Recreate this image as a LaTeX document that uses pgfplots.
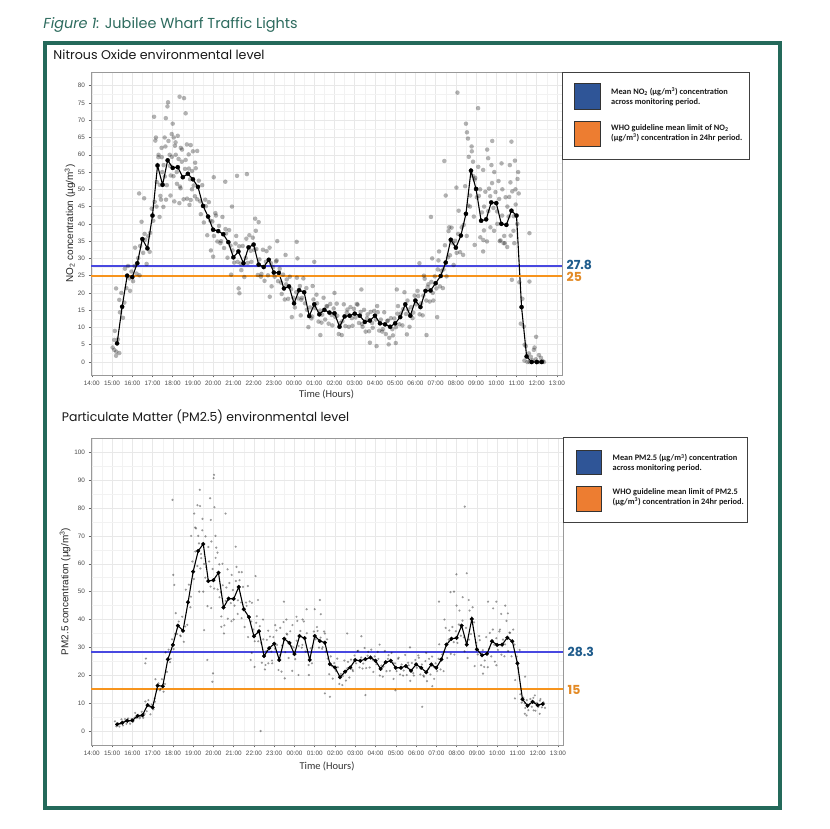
\documentclass[border=0pt]{standalone}
\usepackage{fontspec}
\setmainfont{Liberation Sans}
\newfontfamily\popfont{Poppins}
\newfontfamily\carfont{Carlito}
\usepackage{pgfplots}
\pgfplotsset{compat=1.18}
\usepackage{pgfplotstable}

\definecolor{framegreen}{HTML}{24695A}
\definecolor{titlegreen}{HTML}{2D6B5E}
\definecolor{meanblue}{HTML}{4848E0}
\definecolor{limitorange}{HTML}{F7941D}
\definecolor{annblue}{HTML}{1F5C8C}
\definecolor{annorange}{HTML}{E38A25}
\definecolor{legblue}{HTML}{2F5597}
\definecolor{legorange}{HTML}{ED7D31}

% NO2, 15 minute means (x = hours after 14:00)
\pgfplotstableread{
x y
1.25 5.4
1.5 16
1.75 25
2 24.6
2.25 28.6
2.5 35.6
2.75 32.9
3 42.4
3.25 56.9
3.5 51.3
3.75 58.4
4 56.2
4.25 56.4
4.5 53.5
4.75 54.5
5 52.9
5.25 50.7
5.5 45.2
5.75 42.1
6 38.3
6.25 37.9
6.5 37
6.75 34.7
7 30.3
7.25 32
7.5 28.6
7.75 33.2
8 34
8.25 28.2
8.5 27.5
8.75 29.6
9 25.9
9.25 25.8
9.5 21.3
9.75 21.9
10 17
10.25 20.8
10.5 20.2
10.75 13.3
11 16.7
11.25 13.8
11.5 15.1
11.75 14.3
12 14.1
12.25 10.2
12.5 13.2
12.75 13.4
13 14
13.25 13.4
13.5 11.6
13.75 12
14 13.4
14.25 11.2
14.5 10.9
14.75 10.2
15 11.2
15.25 13
15.5 16.7
15.75 13.4
16 17.8
16.25 15.9
16.5 20.6
16.75 20.7
17 22.8
17.25 24.9
17.5 28.8
17.75 35.4
18 33.1
18.25 36.6
18.5 42.9
18.75 55.4
19 50.1
19.25 40.9
19.5 41.3
19.75 46.2
20 46
20.25 40
20.5 39.7
20.75 43.8
21 42.4
21.25 15.9
21.5 1.6
21.75 0
22 0
22.25 0
}\noline

% NO2, single readings
\pgfplotstableread{
xa ya xb yb xc yc xd yd
1.14 9.0 1.21 3.0 1.29 6.6 1.36 2.6
1.39 14.4 1.46 20 1.54 12.8 1.61 17.2
1.64 27 1.71 21.4 1.79 27.8 1.86 24.2
1.89 20.6 1.96 26.2 2.04 23.4 2.11 27.8
2.14 33.1 2.21 25.6 2.29 30.1 2.36 25.1
2.39 33.6 2.46 40.6 2.54 31.6 2.61 37.1
2.64 35.4 2.71 28.4 2.79 36.4 2.86 31.9
2.89 37.4 2.96 44.4 3.04 40.9 3.11 46.4
3.14 64.1 3.21 52.1 3.29 59.3 3.36 51.3
3.39 48.1 3.46 59.3 3.54 44.9 3.61 53.7
3.64 62.4 3.71 51.2 3.79 64.0 3.86 56.8
3.89 48.2 3.96 59.4 4.04 53.8 4.11 62.6
4.14 63.6 4.21 51.6 4.29 58.8 4.36 50.8
4.39 50.3 4.46 61.5 4.54 47.1 4.61 55.9
4.64 58.5 4.71 47.3 4.79 60.1 4.86 52.9
4.89 46.9 4.96 55.3 5.04 51.1 5.11 57.7
5.14 56.1 5.21 47.1 5.29 52.5 5.36 46.5
5.39 42.8 5.46 51.2 5.54 40.4 5.61 47.0
5.64 45.1 5.71 36.7 5.79 46.3 5.86 40.9
5.89 32.3 5.96 40.7 6.04 36.5 6.11 43.1
6.14 42.4 6.21 34.9 6.29 39.4 6.36 34.4
6.39 35 6.46 42 6.54 33 6.61 38.5
6.64 37.2 6.71 30.2 6.79 38.2 6.86 33.7
6.89 25.3 6.96 32.3 7.04 28.8 7.11 34.3
7.14 36.5 7.21 29 7.29 33.5 7.36 28.5
7.39 26.6 7.46 33.6 7.54 24.6 7.61 30.1
7.64 35.7 7.71 28.7 7.79 36.7 7.86 32.2
7.89 29 7.96 36 8.04 32.5 8.11 38
8.14 32.7 8.21 25.2 8.29 29.7 8.36 24.7
8.39 25.5 8.46 32.5 8.54 23.5 8.61 29
8.64 32.1 8.71 25.1 8.79 33.1 8.86 28.6
8.89 21.9 8.96 27.5 9.04 24.7 9.11 29.1
9.14 29.4 9.21 23.4 9.29 27 9.36 23
9.39 19.7 9.46 25.3 9.54 18.1 9.61 22.5
9.64 23.9 9.71 18.3 9.79 24.7 9.86 21.1
9.89 13 9.96 18.6 10.04 15.8 10.11 20.2
10.14 24.4 10.21 18.4 10.29 22 10.36 18
10.39 18.6 10.46 24.2 10.54 17 10.61 21.4
10.64 15.1 10.71 10.1 10.79 15.8 10.86 12.6
10.89 13.2 10.96 18.1 11.04 15.6 11.11 19.5
11.14 17 11.21 11.7 11.29 14.9 11.36 11.4
11.39 13.7 11.46 18.6 11.54 12.3 11.61 16.2
11.64 16.1 11.71 11.1 11.79 16.8 11.86 13.6
11.89 10.6 11.96 15.5 12.04 13 12.11 16.9
12.14 13.4 12.21 8.1 12.29 11.3 12.36 7.8
12.39 11.8 12.46 16.7 12.54 10.4 12.61 14.3
12.64 15.2 12.71 10.2 12.79 15.9 12.86 12.7
12.89 10.5 12.96 15.4 13.04 12.9 13.11 16.8
13.14 16.6 13.21 11.3 13.29 14.5 13.36 11
13.39 10.2 13.46 15.1 13.54 8.8 13.61 12.7
13.64 13.8 13.71 8.9 13.79 14.5 13.86 11.3
13.89 9.9 13.96 14.8 14.04 12.3 14.11 16.2
14.14 14.4 14.21 9.1 14.29 12.3 14.36 8.8
14.39 9.5 14.46 14.4 14.54 8.1 14.61 11.9
14.64 12 14.71 7 14.79 12.7 14.86 9.5
14.89 7.7 14.96 12.6 15.04 10.1 15.11 14
15.14 16.2 15.21 10.9 15.29 14.1 15.36 10.6
15.39 15.3 15.46 20.2 15.54 13.9 15.61 17.8
15.64 15.2 15.71 10.2 15.79 15.9 15.86 12.7
15.89 14.3 15.96 19.2 16.04 16.7 16.11 20.6
16.14 19.1 16.21 13.8 16.29 17 16.36 13.5
16.39 19.2 16.46 24.1 16.54 17.8 16.61 21.7
16.64 22.5 16.71 17.5 16.79 23.2 16.86 20
16.89 17.8 16.96 24.8 17.04 21.3 17.11 26.8
17.14 29.4 17.21 21.9 17.29 26.4 17.36 21.4
17.39 26.8 17.46 33.8 17.54 24.8 17.61 30.3
17.64 37.9 17.71 30.9 17.79 38.9 17.86 34.4
17.89 28.1 17.96 35.1 18.04 31.6 18.11 37.1
18.14 43.8 18.21 31.8 18.29 39 18.36 31
18.39 39.7 18.46 50.9 18.54 36.5 18.61 45.3
18.64 59.4 18.71 48.2 18.79 61 18.86 53.8
18.89 42.1 18.96 53.3 19.04 47.7 19.11 56.5
19.14 48.1 19.21 36.1 19.29 43.3 19.36 35.3
19.39 38.1 19.46 49.3 19.54 34.9 19.61 43.7
19.64 50.2 19.71 39 19.79 51.8 19.86 44.6
19.89 38 19.96 49.2 20.04 43.6 20.11 52.4
20.14 47.2 20.21 35.2 20.29 42.4 20.36 34.4
20.39 36.5 20.46 47.7 20.54 33.3 20.61 42.1
20.64 47.8 20.71 36.6 20.79 49.4 20.86 42.2
20.89 34.4 20.96 45.6 21.04 40 21.11 48.8
21.14 23.1 21.21 11.1 21.29 18.3 21.36 10.3
21.39 0.4 21.46 4.6 21.54 0 21.61 2.5
21.64 0 21.71 1.5 21.79 0.5 21.86 3.5
21.89 4.2 21.96 0.8 22.04 0 22.11 2
22.14 0 22.21 1.2 22.29 0.3 22.36 0
}\noscat

\pgfplotstableread{
x y
1.03 4.2
1.11 3.5
1.2 1.8
1.11 6.4
1.2 21.3
1.36 18
2.34 48.8
2.59 47.4
3.08 71
3.17 65
3.66 70.6
3.74 74
3.77 75.2
4.0 69
4.05 65
4.25 65.5
4.34 76.8
4.56 76.4
4.64 72
4.89 62.8
3.42 47
3.67 47
4.08 46.5
4.33 46
4.83 45.5
5.0 61
5.21 61.1
6.03 53.5
6.6 52.2
6.0 30.5
6.93 45
7.18 53.9
7.67 54.4
7.26 21.3
7.3 19.9
8.08 41.5
8.25 40.5
8.8 18.9
9.17 35
9.58 31
10.13 34.8
10.17 30
10.33 13.5
11.0 29
10.92 22
11.3 7.8
12 20
13.33 21
13.75 5.6
14.08 4.6
14.68 5.1
15.03 5.5
15.08 21
15.58 8
16.42 25
16.55 7.8
16.2 28.6
16.77 42
16.83 30
17.08 13
17.17 32
17.43 58.2
17.5 48.2
17.67 39
18.03 50.5
18.08 78
18.5 69
18.55 66.5
18.6 64.7
18.78 62.4
18.93 52.8
19.1 73.5
19.35 55.6
19.55 61.5
19.6 59
19.76 57
19.8 64
20.26 57.5
20.67 57
20.75 63.8
20.92 58.3
18.93 33.9
19.35 32
20.17 35
20.42 34.4
20.77 23.8
21.4 5
21.64 37.3
21.64 23.3
21.97 7.3
3.3 60
3.45 62
3.55 57
3.6 65
3.85 60
3.95 66
4.15 60
4.2 55
4.4 62
4.45 58
4.7 63
4.8 56
4.95 50
5.1 48
3.2 45
3.35 42
3.48 55
3.9 54
19.2 50
19.4 45
19.7 48
19.9 55
20.05 40
20.3 50
20.55 45
20.7 52
20.85 38
20.95 50
21.05 53
21.08 55
18.7 45
18.85 58
}\noextra

% PM2.5, 15 minute means
\pgfplotstableread{
x y
1.25 2.4
1.5 3.0
1.75 3.7
2 3.8
2.25 5.4
2.5 5.7
2.75 9.3
3 8.5
3.25 16.3
3.5 16.1
3.75 25.7
4 30.9
4.25 37.8
4.5 36
4.75 46.2
5 57.2
5.25 64.6
5.5 67.1
5.75 53.8
6 54.1
6.25 56.8
6.5 44.3
6.75 47.5
7 47.4
7.25 51.7
7.5 43.7
7.75 40.9
8 34
8.25 35.8
8.5 26.9
8.75 29.7
9 31.3
9.25 25.5
9.5 33.1
9.75 31.6
10 27.6
10.25 34.1
10.5 33.3
10.75 25.5
11 34.1
11.25 32.3
11.5 31.7
11.75 24
12 22.8
12.25 19.3
12.5 21.3
12.75 22.8
13 25.5
13.25 25.2
13.5 25.8
13.75 26.4
14 25.2
14.25 22.3
14.5 24.7
14.75 25.2
15 22.7
15.25 22.7
15.5 23.3
15.75 21.6
16 23.9
16.25 22.7
16.5 21.1
16.75 23.9
17 22.7
17.25 25.7
17.5 31
17.75 33.1
18 33.4
18.25 37.8
18.5 31
18.75 40.2
19 29.3
19.25 27.2
19.5 27.7
19.75 32.2
20 30.9
20.25 31
20.5 33.5
20.75 32.2
21 24.3
21.25 11.4
21.5 9.1
21.75 10.5
22 9.3
22.25 9.7
}\pmline

\pgfplotstableread{
xa ya xb yb xc yc xd yd
1.14 3.5 1.21 1.7 1.29 2.8 1.36 1.6
1.39 2.5 1.46 4.2 1.54 2.0 1.61 3.4
1.64 4.3 1.71 2.6 1.79 4.5 1.86 3.5
1.89 2.6 1.96 4.3 2.04 3.4 2.11 4.8
2.14 6.5 2.21 4.7 2.29 5.8 2.36 4.6
2.39 5.2 2.46 6.9 2.54 4.7 2.61 6.1
2.64 10.6 2.71 7.1 2.79 11.1 2.86 8.8
2.89 6 2.96 9.5 3.04 7.8 3.11 10.5
3.14 18.6 3.21 14.8 3.29 17.1 3.36 14.6
3.39 15.1 3.46 18.6 3.54 14.1 3.61 16.9
3.64 28.2 3.71 21.2 3.79 29.2 3.86 24.7
3.89 25.9 3.96 32.9 4.04 29.4 4.11 34.9
4.14 42.3 4.21 34.8 4.29 39.3 4.36 34.3
4.39 34 4.46 41 4.54 32 4.61 37.5
4.64 50.7 4.71 38.1 4.79 52.5 4.86 44.4
4.89 48.2 4.96 60.8 5.04 54.5 5.11 64.4
5.14 72.7 5.21 59.2 5.29 67.3 5.36 58.3
5.39 63.5 5.46 76.1 5.54 59.9 5.61 69.8
5.64 58.8 5.71 44.8 5.79 60.8 5.86 51.8
5.89 44.1 5.96 58.1 6.04 51.1 6.11 62.1
6.14 65.8 6.21 50.8 6.29 59.8 6.36 49.8
6.39 41.1 6.46 52.3 6.54 37.9 6.61 46.7
6.64 51.5 6.71 40.3 6.79 53.1 6.86 45.9
6.89 39.4 6.96 50.6 7.04 45 7.11 53.8
7.14 58.9 7.21 46.9 7.29 54.1 7.36 46.1
7.39 40.5 7.46 51.7 7.54 37.3 7.61 46.1
7.64 44.9 7.71 33.7 7.79 46.5 7.86 39.3
7.89 28 7.96 36.4 8.04 32.2 8.11 38.8
8.14 41.2 8.21 32.2 8.29 37.6 8.36 31.6
8.39 24.5 8.46 32.9 8.54 22.1 8.61 28.7
8.64 32.7 8.71 24.3 8.79 33.9 8.86 28.5
8.89 25.3 8.96 33.7 9.04 29.5 9.11 36.1
9.14 30.9 9.21 21.9 9.29 27.3 9.36 21.3
9.39 30.7 9.46 39.1 9.54 28.3 9.61 34.9
9.64 34.6 9.71 26.2 9.79 35.8 9.86 30.4
9.89 21.6 9.96 30 10.04 25.8 10.11 32.4
10.14 39.5 10.21 30.5 10.29 35.9 10.36 29.9
10.39 30.9 10.46 39.3 10.54 28.5 10.61 35.1
10.64 28.5 10.71 20.1 10.79 29.7 10.86 24.3
10.89 30.1 10.96 35.7 11.04 32.9 11.11 37.3
11.14 35.9 11.21 29.9 11.29 33.5 11.36 29.5
11.39 30.1 11.46 35.7 11.54 28.5 11.61 32.9
11.64 26 11.71 20.4 11.79 26.8 11.86 23.2
11.89 18.8 11.96 24.4 12.04 21.6 12.11 26
12.14 22.9 12.21 16.9 12.29 20.5 12.36 16.5
12.39 19.7 12.46 25.3 12.54 18.1 12.61 22.5
12.64 24.8 12.71 19.2 12.79 25.6 12.86 22
12.89 21.5 12.96 27.1 13.04 24.3 13.11 28.7
13.14 28.8 13.21 22.8 13.29 26.4 13.36 22.4
13.39 24.2 13.46 29.8 13.54 22.6 13.61 27
13.64 28.4 13.71 22.8 13.79 29.2 13.86 25.6
13.89 21.2 13.96 26.8 14.04 24 14.11 28.4
14.14 25.9 14.21 19.9 14.29 23.5 14.36 19.5
14.39 23.1 14.46 28.7 14.54 21.5 14.61 25.9
14.64 27.2 14.71 21.6 14.79 28 14.86 24.4
14.89 18.7 14.96 24.3 15.04 21.5 15.11 25.9
15.14 26.3 15.21 20.3 15.29 23.9 15.36 19.9
15.39 21.7 15.46 27.3 15.54 20.1 15.61 24.5
15.64 23.6 15.71 18 15.79 24.4 15.86 20.8
15.89 19.9 15.96 25.5 16.04 22.7 16.11 27.1
16.14 26.3 16.21 20.3 16.29 23.9 16.36 19.9
16.39 19.5 16.46 25.1 16.54 17.9 16.61 22.3
16.64 25.9 16.71 20.3 16.79 26.7 16.86 23.1
16.89 18.7 16.96 24.3 17.04 21.5 17.11 25.9
17.14 31.1 17.21 22.1 17.29 27.5 17.36 21.5
17.39 28.6 17.46 37 17.54 26.2 17.61 32.8
17.64 36.1 17.71 27.7 17.79 37.3 17.86 31.9
17.89 27.4 17.96 35.8 18.04 31.6 18.11 38.2
18.14 43.2 18.21 34.2 18.29 39.6 18.36 33.6
18.39 28.6 18.46 37 18.54 26.2 18.61 32.8
18.64 43.2 18.71 34.8 18.79 44.4 18.86 39
18.89 23.3 18.96 31.7 19.04 27.5 19.11 34.1
19.14 32.6 19.21 23.6 19.29 29 19.36 23
19.39 25.3 19.46 33.7 19.54 22.9 19.61 29.5
19.64 35.2 19.71 26.8 19.79 36.4 19.86 31
19.89 24.9 19.96 33.3 20.04 29.1 20.11 35.7
20.14 36.4 20.21 27.4 20.29 32.8 20.36 26.8
20.39 31.1 20.46 39.5 20.54 28.7 20.61 35.3
20.64 35.2 20.71 26.8 20.79 36.4 20.86 31
20.89 18.3 20.96 26.7 21.04 22.5 21.11 29.1
21.14 13.2 21.21 10.2 21.29 12 21.36 10
21.39 8.3 21.46 11.1 21.54 7.5 21.61 9.7
21.64 11.5 21.71 8.7 21.79 11.9 21.86 10.1
21.89 7.3 21.96 10.1 22.04 8.7 22.11 10.9
22.14 11.5 22.21 8.5 22.29 10.3 22.36 8.3
}\pmscat

\pgfplotstableread{
x y
3.98 82.9
4.02 56
4.07 52.4
2.67 26
5.33 86.5
5.21 81
5.34 80.7
5.05 78
5.84 83.5
6.03 91.9
6.01 90.7
6.05 80.3
6.6 78
5.87 75.7
7.1 66.1
7.26 57
8.08 55.6
8.33 0
5.98 20.7
5.95 17.7
5.7 25.5
5.54 36.2
6.39 37.4
6.52 35
7.84 25.5
8.03 23
9.48 46.4
8.57 23.7
8.9 24.3
9.52 18.9
10.2 20.1
10.7 23.7
10.6 43.7
3.11 11.7
2.64 24.3
11.25 47
11.3 41.9
11.0 43.7
11.5 35
11.5 13.5
11.75 12.3
13.5 12.9
14.98 14.6
16.3 8.7
16.8 16.1
17.87 50
17.7 49.8
17.99 56.2
18.5 56.6
18.4 80.5
17.13 46.4
19.55 46.4
19.96 46.4
20.53 42.2
19.3 20.6
19.96 23.6
20.88 11.7
21.38 19.5
21.45 5.6
21.37 6.2
21.86 12.8
22.1 6.2
21.8 7.4
4.9 70
5.1 73
5.25 70
5.4 62
5.45 72
5.6 55
5.75 66
5.9 68
6.1 70
6.2 64
6.3 48
5.5 50
5.3 50
6.45 60
6.7 58
6.9 56
7.0 40
7.2 42
7.4 57
7.7 52
7.9 46
8.2 47
8.45 40
8.7 36
9.05 38
9.3 37
9.6 40
9.9 38
10.1 41
10.4 40
12.6 35
13.3 34
14.2 31
15.7 30
16.5 28
17.4 40
18.0 45
18.3 48
18.6 47
19.8 44
20.2 42
20.4 45
}\pmextra

% the two reference levels of each panel
\pgfplotstableread{
x mean limit
-0.04 27.8 25
23.25 27.8 25
}\nolevels
\pgfplotstableread{
x mean limit
-0.04 28.3 15
23.25 28.3 15
}\pmlevels

\pgfplotsset{
  panel/.style={
    scale only axis,
    axis on top=false,
    xmin=-0.04, xmax=23.25,
    xtick={0,...,23},
    xticklabels={14:00,15:00,16:00,17:00,18:00,19:00,20:00,21:00,22:00,23:00,00:00,01:00,02:00,03:00,04:00,05:00,06:00,07:00,08:00,09:00,10:00,11:00,12:00,13:00},
    minor x tick num=1, minor y tick num=1,
    grid=both,
    major grid style={draw=black!9, line width=0.5bp},
    minor grid style={draw=black!5, line width=0.4bp},
    axis line style={draw=black!40, line width=0.9bp},
    tick align=outside, tick pos=left,
    major tick length=2.5bp, minor tick length=0pt,
    tick style={draw=black!60, line width=0.5bp},
    tick label style={font=\fontsize{6.4}{7}\selectfont, text=black!70},
    /pgf/number format/assume math mode=true,
    xlabel={Time (Hours)},
    xlabel style={font=\carfont\fontsize{10.5}{12}\selectfont, text=black!80,
      at={(axis description cs:0.5,0)}, anchor=center},
    ylabel style={font=\fontsize{10}{12}\selectfont, text=black!85, anchor=center},
    clip=false,
  },
  scat/.style={only marks, mark=*, mark size=2.25bp,
    mark options={fill=black, draw opacity=0, fill opacity=0.3}},
  scatsmall/.style={only marks, mark=*, mark size=1.2bp,
    mark options={fill=black, draw opacity=0, fill opacity=0.4}},
  meanline/.style={draw=black, line width=1.1bp, mark=*,
    mark options={fill=black, draw=black, line width=0.3bp}},
  level/.style={line width=1.6bp, mark=none},
}

\begin{document}
\begin{tikzpicture}[x=1bp,y=1bp]
\path[use as bounding box] (0,0) rectangle (829,829);
\fill[white] (0,0) rectangle (829,829);

\node[anchor=west, inner sep=0, text=titlegreen] at (43.3,804)
  {\popfont\fontsize{14.5}{16}\selectfont\textit{Figure 1:} Jubilee Wharf Traffic Lights};
\draw[framegreen, line width=4bp] (45.3,786.3) rectangle (780.3,21);

\node[anchor=west, inner sep=0, text=black!90] at (53.3,774)
  {\popfont\fontsize{12.7}{14}\selectfont Nitrous Oxide environmental level};
\node[anchor=west, inner sep=0, text=black!90] at (61.7,411.7)
  {\popfont\fontsize{12.5}{14}\selectfont Particulate Matter (PM2.5) environmental level};

% ---- NO2 panel
\begin{axis}[panel, at={(91bp,454bp)}, anchor=south west,
  width=471bp, height=303bp,
  ymin=-3.76, ymax=83.97, ytick={0,5,...,80},
  xlabel style={yshift=-19bp},
  ylabel={NO\textsubscript{2} concentration (µg/m\textsuperscript{3})},
  ylabel style={at={(axis description cs:-0.0446,0.5)}}]
\addplot[scat] table[x=xa,y=ya]{\noscat};
\addplot[scat] table[x=xb,y=yb]{\noscat};
\addplot[scat] table[x=xc,y=yc]{\noscat};
\addplot[scat] table[x=xd,y=yd]{\noscat};
\addplot[scat] table{\noextra};
\addplot[level, draw=meanblue] table[x=x,y=mean]{\nolevels};
\addplot[meanline, mark size=2.1bp] table{\noline};
\addplot[level, line width=1.7bp, draw=limitorange] table[x=x,y=limit]{\nolevels};
\node[anchor=west, inner sep=0, xshift=4.5bp, text=annblue,
  font=\popfont\bfseries\fontsize{12.5}{14}\selectfont] at (axis cs:23.25,28.0) {27.8};
\node[anchor=west, inner sep=0, xshift=4.5bp, text=annorange,
  font=\popfont\bfseries\fontsize{12.5}{14}\selectfont] at (axis cs:23.25,24.6) {25};
\end{axis}

% ---- PM2.5 panel
\begin{axis}[panel, at={(91bp,84bp)}, anchor=south west,
  width=472bp, height=307bp,
  ymin=-5, ymax=105.1, ytick={0,10,...,100},
  xlabel style={yshift=-21.7bp},
  ylabel={PM2.5 concentration (µg/m\textsuperscript{3})},
  ylabel style={at={(axis description cs:-0.055,0.5)}}]
\addplot[scatsmall] table[x=xa,y=ya]{\pmscat};
\addplot[scatsmall] table[x=xb,y=yb]{\pmscat};
\addplot[scatsmall] table[x=xc,y=yc]{\pmscat};
\addplot[scatsmall] table[x=xd,y=yd]{\pmscat};
\addplot[scatsmall] table{\pmextra};
\addplot[level, draw=meanblue] table[x=x,y=mean]{\pmlevels};
\addplot[level, draw=limitorange] table[x=x,y=limit]{\pmlevels};
\addplot[meanline, mark size=1.9bp] table{\pmline};
\node[anchor=west, inner sep=0, xshift=4.5bp, text=annblue,
  font=\popfont\bfseries\fontsize{12.5}{14}\selectfont] at (axis cs:23.25,28.3) {28.3};
\node[anchor=west, inner sep=0, xshift=4.5bp, text=annorange,
  font=\popfont\bfseries\fontsize{12.5}{14}\selectfont] at (axis cs:23.25,14.7) {15};
\end{axis}

% ---- legend boxes
\draw[black!75, line width=0.8bp, fill=white] (562,757) rectangle (749,670);
\draw[black!80, line width=0.8bp, fill=legblue] (574,745.7) rectangle (600.7,719.7);
\draw[black!80, line width=0.8bp, fill=legorange] (574,708) rectangle (600.7,682.3);
\node[anchor=west, align=left, inner sep=0, text=black!90,
  font=\carfont\bfseries\fontsize{8.4}{9.3}\selectfont] at (611,732.2)
  {Mean NO\textsubscript{2} (µg/m\textsuperscript{3}) concentration\\across monitoring period.};
\node[anchor=west, align=left, inner sep=0, text=black!90,
  font=\carfont\bfseries\fontsize{8.4}{10}\selectfont] at (611,695.5)
  {WHO guideline mean limit of NO\textsubscript{2}\\(µg/m\textsuperscript{3}) concentration in 24hr period.};

\draw[black!75, line width=0.8bp, fill=white] (563,392) rectangle (747,307);
\draw[black!80, line width=0.8bp, fill=legblue] (576,379) rectangle (601.7,355);
\draw[black!80, line width=0.8bp, fill=legorange] (576,342.3) rectangle (601.7,318);
\node[anchor=west, align=left, inner sep=0, text=black!90,
  font=\carfont\bfseries\fontsize{8.4}{10}\selectfont] at (612.5,365.7)
  {Mean PM2.5 (µg/m\textsuperscript{3}) concentration\\across monitoring period.};
\node[anchor=west, align=left, inner sep=0, text=black!90,
  font=\carfont\bfseries\fontsize{8.4}{10}\selectfont] at (612.5,331.7)
  {WHO guideline mean limit of PM2.5\\(µg/m\textsuperscript{3}) concentration in 24hr period.};
\end{tikzpicture}
\end{document}
